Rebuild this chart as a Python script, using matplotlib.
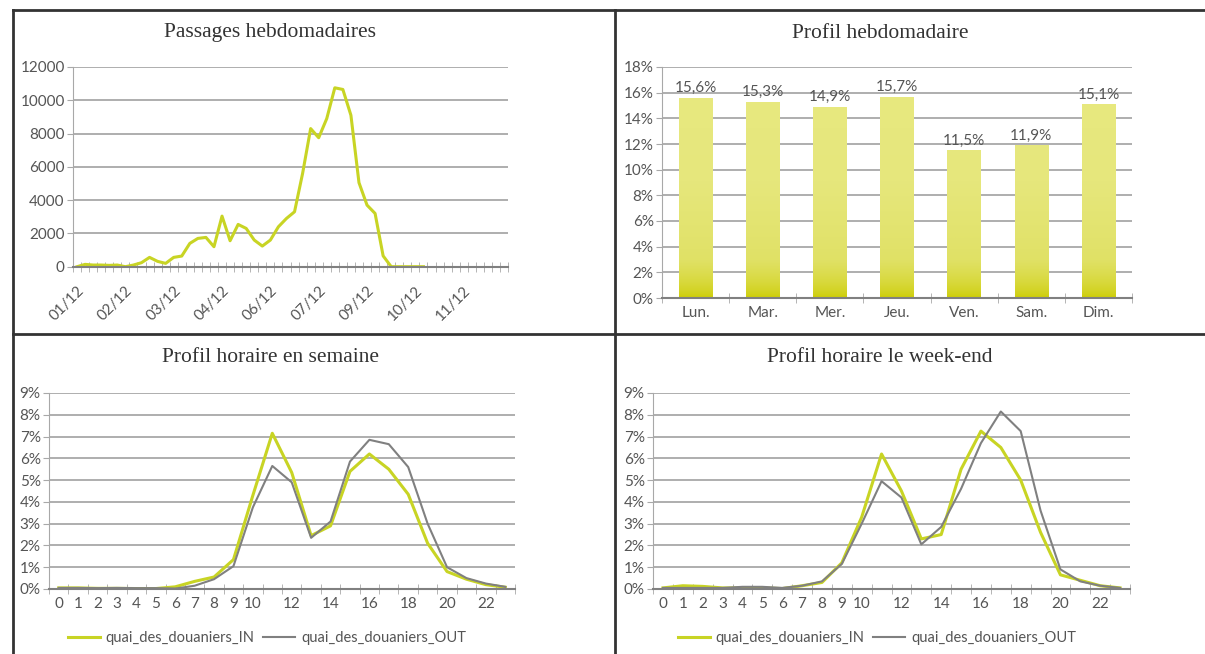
import numpy as np
import matplotlib
matplotlib.use('Agg')
import matplotlib.pyplot as plt
from matplotlib.lines import Line2D
from matplotlib.colors import LinearSegmentedColormap

# --- donnees ---
semaines_labels = ['01/12', '02/12', '03/12', '04/12', '06/12', '07/12', '09/12', '10/12', '11/12']
passages = [0, 140, 100, 100, 80, 100, 0, 100, 240, 560, 320, 200, 560, 640,
            1400, 1700, 1760, 1200, 3040, 1560, 2540, 2300, 1600, 1240, 1600,
            2400, 2900, 3300, 5600, 8300, 7750, 8900, 10750, 10650, 9100, 5050,
            3700, 3200, 650, 0, 0, 0, 0, 0]
n_semaines = 54

jours = ['Lun.', 'Mar.', 'Mer.', 'Jeu.', 'Ven.', 'Sam.', 'Dim.']
profil_hebdo = [15.6, 15.3, 14.9, 15.7, 11.5, 11.9, 15.1]

heures = list(range(24))
semaine_in = [0.05, 0.05, 0.03, 0.03, 0.02, 0.02, 0.1, 0.35, 0.55, 1.35, 4.3, 7.15,
              5.35, 2.45, 2.9, 5.4, 6.2, 5.5, 4.35, 2.1, 0.8, 0.45, 0.2, 0.08]
semaine_out = [0.05, 0.05, 0.04, 0.05, 0.04, 0.04, 0.02, 0.15, 0.45, 1.05, 3.75, 5.65,
               4.9, 2.35, 3.1, 5.85, 6.85, 6.65, 5.6, 3.0, 1.0, 0.5, 0.25, 0.1]
weekend_in = [0.05, 0.15, 0.12, 0.05, 0.05, 0.05, 0.02, 0.15, 0.3, 1.2, 3.3, 6.2,
              4.5, 2.3, 2.5, 5.5, 7.25, 6.5, 5.0, 2.6, 0.65, 0.4, 0.15, 0.05]
weekend_out = [0.05, 0.05, 0.05, 0.05, 0.1, 0.1, 0.05, 0.15, 0.35, 1.15, 3.0, 4.95,
               4.2, 2.05, 2.85, 4.6, 6.7, 8.15, 7.25, 3.6, 0.9, 0.35, 0.15, 0.05]

JAUNE = '#c8d424'
GRIS = '#808080'
GRILLE = '#a8a8a8'
TXT = '#555555'
W, H = 1205, 654

plt.rcParams['font.family'] = ['Lato', 'DejaVu Sans']
fig = plt.figure(figsize=(W / 100, H / 100), dpi=100)


def rect(l, t, r, b):
    return [l / W, 1 - b / H, (r - l) / W, (b - t) / H]


def style_axe(ax):
    for s in ['top', 'right']:
        ax.spines[s].set_visible(False)
    ax.spines['left'].set_color(GRILLE)
    ax.spines['bottom'].set_color(GRIS)
    ax.spines['bottom'].set_linewidth(1.5)
    ax.yaxis.grid(True, color=GRILLE, linewidth=1.3)
    ax.set_axisbelow(True)
    ax.tick_params(axis='y', colors=GRILLE, labelcolor=TXT, labelsize=11, length=4, pad=2)
    ax.tick_params(axis='x', which='major', length=0, labelcolor=TXT, labelsize=11, pad=6)
    ax.tick_params(axis='x', which='minor', direction='inout', length=7, color=GRILLE)


def titre(x, y, txt):
    fig.text(x / W, 1 - y / H, txt, ha='center', va='center', fontsize=15.5,
             family='Liberation Serif', color='#333333')


# --- passages hebdomadaires ---
ax1 = fig.add_axes(rect(73, 67, 508, 266.7))
ax1.plot(range(len(passages)), passages, color=JAUNE, linewidth=2.2)
ax1.set_xlim(-0.5, n_semaines - 0.5)
ax1.set_ylim(0, 12000)
ax1.set_yticks(range(0, 12001, 2000))
ax1.set_xticks(range(0, 6 * len(semaines_labels), 6))
ax1.set_xticklabels(semaines_labels, rotation=45, ha='right', rotation_mode='anchor')
ax1.set_xticks(np.arange(-0.5, n_semaines, 1), minor=True)
style_axe(ax1)
ax1.tick_params(axis='x', which='major', pad=12)
titre(270, 33, 'Passages hebdomadaires')

# --- profil hebdomadaire ---
ax2 = fig.add_axes(rect(662, 67, 1132, 298))
barres = ax2.bar(range(len(jours)), profil_hebdo, width=0.5, color='#e6e77c')
cmap = LinearSegmentedColormap.from_list('deg', ['#cccc00', '#e0e165', '#e6e77c', '#e8e980'])
grad = np.linspace(0, 1, 256).reshape(-1, 1) ** 0.6
for b, v in zip(barres, profil_hebdo):
    x0 = b.get_x()
    im = ax2.imshow(grad, extent=(x0, x0 + b.get_width(), 0, 18), origin='lower',
                    cmap=cmap, aspect='auto', zorder=2)
    im.set_clip_path(b)
    ax2.text(x0 + b.get_width() / 2, v + 0.2, f'{v:.1f}%'.replace('.', ','),
             ha='center', va='bottom', fontsize=11, color=TXT, zorder=3)
ax2.set_xlim(-0.5, len(jours) - 0.5)
ax2.set_ylim(0, 18)
ax2.set_yticks(range(0, 19, 2))
ax2.set_yticklabels([f'{v}%' for v in range(0, 19, 2)])
ax2.set_xticks(range(len(jours)))
ax2.set_xticklabels(jours)
ax2.set_xticks(np.arange(-0.5, len(jours), 1), minor=True)
style_axe(ax2)
titre(880, 33, 'Profil hebdomadaire')


# --- profils horaires ---
def profil_horaire(r, val_in, val_out, tx, ty, txt, lx):
    ax = fig.add_axes(rect(*r))
    ax.plot(heures, val_in, color=JAUNE, linewidth=2.2, label='quai_des_douaniers_IN')
    ax.plot(heures, val_out, color=GRIS, linewidth=1.5, label='quai_des_douaniers_OUT')
    ax.set_xlim(-0.5, 23.5)
    ax.set_ylim(0, 9)
    ax.set_yticks(range(10))
    ax.set_yticklabels([f'{v}%' for v in range(10)])
    ticks = list(range(10)) + list(range(10, 23, 2))
    ax.set_xticks(ticks)
    ax.set_xticklabels([str(t) for t in ticks])
    ax.set_xticks(np.arange(-0.5, 24, 1), minor=True)
    style_axe(ax)
    titre(tx, ty, txt)
    ax.legend(loc='center', bbox_to_anchor=(lx / W, 1 - 638 / H),
              bbox_transform=fig.transFigure, ncol=2, frameon=False,
              fontsize=10.5, labelcolor=TXT, handlelength=2.2, columnspacing=0.6,
              handletextpad=0.4)
    return ax


profil_horaire((49, 393, 515, 589), semaine_in, semaine_out, 270, 358,
               'Profil horaire en semaine', 267)
profil_horaire((653, 393, 1130, 589), weekend_in, weekend_out, 880, 358,
               'Profil horaire le week-end', 877)

# --- cadre des panneaux ---
cadre = dict(color='#333333', linewidth=2, transform=fig.transFigure)
fig.add_artist(Line2D([13 / W, 13 / W], [0, 1 - 10 / H], **cadre))
fig.add_artist(Line2D([13 / W, 1], [1 - 10 / H, 1 - 10 / H], **cadre))
fig.add_artist(Line2D([615 / W, 615 / W], [0, 1 - 10 / H], **cadre))
fig.add_artist(Line2D([13 / W, 1], [1 - 334 / H, 1 - 334 / H], **cadre))

fig.savefig('out.png', dpi=100)
